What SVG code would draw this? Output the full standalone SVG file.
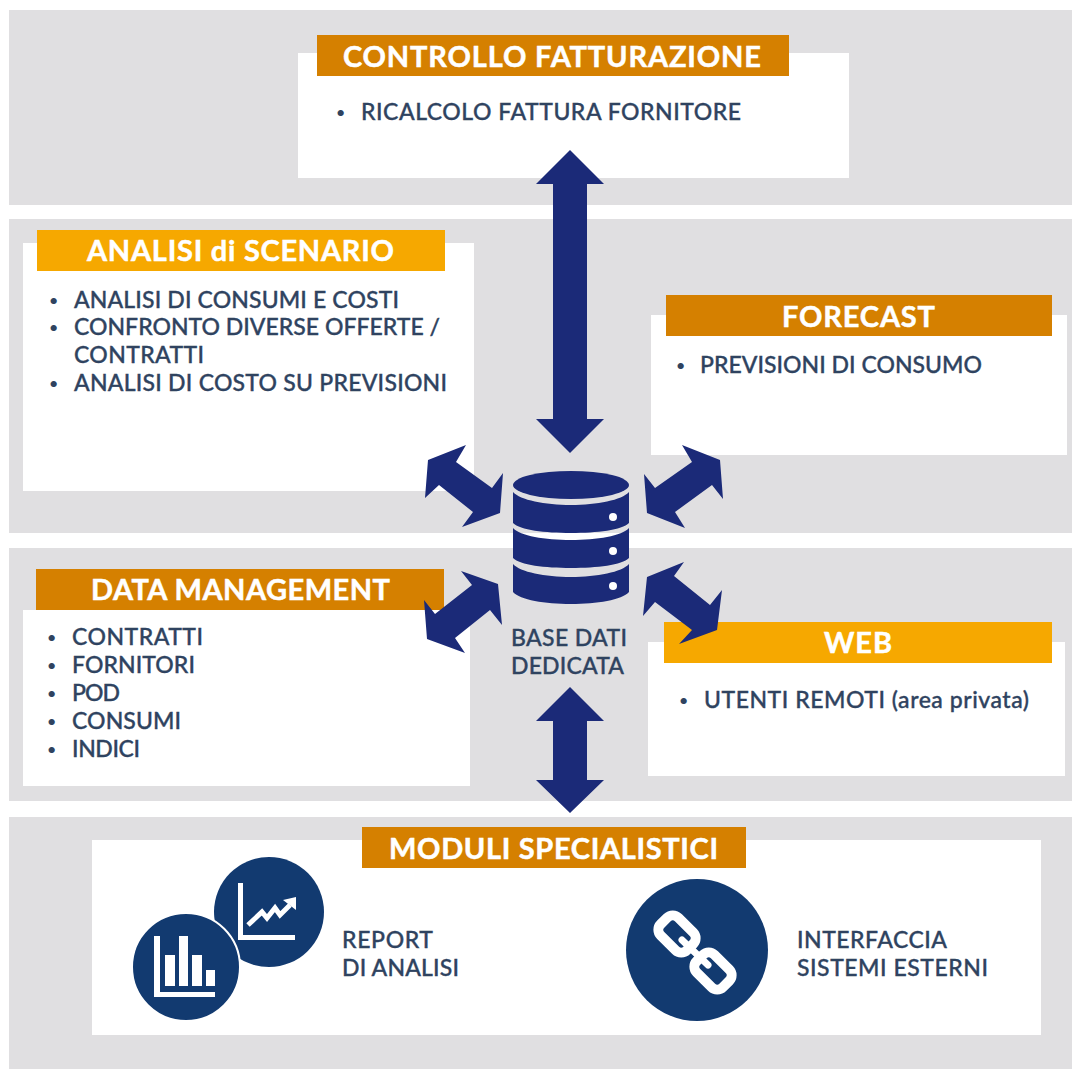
<svg xmlns="http://www.w3.org/2000/svg" width="1072" height="1069" viewBox="0 0 1072 1069">
<style>
.band{fill:#e0dfe1}
.panel{fill:#fff}
.dark{fill:#d58000}
.light{fill:#f6a800}
.head{font-family:"Lato","Liberation Sans",sans-serif;font-weight:700;font-size:29px;fill:#fff;stroke:#fff;stroke-width:.5}
.body{font-family:"Lato","Liberation Sans",sans-serif;font-weight:500;font-size:23px;fill:#2f4360;stroke:#2f4360;stroke-width:.35}
.bul{font-size:16px;stroke:none;transform:translate(0,-2px)}
.arrow{fill:#1b2a78}
.disc{fill:#123a70}
.ico{fill:#fff}
.line{fill:none;stroke:#fff}
</style>
<rect width="1072" height="1069" fill="#fff"/>
<g id="bands">
<rect class="band" x="9" y="10" width="1063" height="195"/>
<rect class="band" x="9" y="219" width="1063" height="314"/>
<rect class="band" x="9" y="548" width="1063" height="253"/>
<rect class="band" x="9" y="817" width="1063" height="252"/>
</g>
<g id="node-controllo">
<rect class="panel" x="298" y="53" width="551" height="125"/>
<rect class="dark" x="317" y="35" width="472" height="41"/>
<text class="head" x="343" y="67" textLength="418">CONTROLLO FATTURAZIONE</text>
<text class="body bul" x="336" y="120">•</text>
<text class="body" x="361" y="120" textLength="380">RICALCOLO FATTURA FORNITORE</text>
</g>
<g id="node-analisi">
<rect class="panel" x="23" y="243" width="451" height="248"/>
<rect class="light" x="37" y="230" width="408" height="41"/>
<text class="head" x="87" y="261" textLength="307">ANALISI di SCENARIO</text>
<text class="body bul" x="49" y="308">•</text>
<text class="body" x="74" y="308" textLength="325">ANALISI DI CONSUMI E COSTI</text>
<text class="body bul" x="49" y="335">•</text>
<text class="body" x="74" y="335" textLength="366">CONFRONTO DIVERSE OFFERTE /</text>
<text class="body" x="74" y="363" textLength="130">CONTRATTI</text>
<text class="body bul" x="49" y="391">•</text>
<text class="body" x="74" y="391" textLength="373">ANALISI DI COSTO SU PREVISIONI</text>
</g>
<g id="node-forecast">
<rect class="panel" x="651" y="315" width="416" height="140"/>
<rect class="dark" x="666" y="295" width="386" height="41"/>
<text class="head" x="782" y="327" textLength="153">FORECAST</text>
<text class="body bul" x="676" y="373">•</text>
<text class="body" x="700" y="373" textLength="282">PREVISIONI DI CONSUMO</text>
</g>
<g id="node-data">
<rect class="panel" x="23" y="610" width="447" height="176"/>
<rect class="dark" x="36" y="569" width="408" height="41"/>
<text class="head" x="91" y="600" textLength="299">DATA MANAGEMENT</text>
<text class="body bul" x="47" y="645">•</text>
<text class="body" x="72" y="645" textLength="131">CONTRATTI</text>
<text class="body bul" x="47" y="673">•</text>
<text class="body" x="72" y="673" textLength="123">FORNITORI</text>
<text class="body bul" x="47" y="701">•</text>
<text class="body" x="72" y="701" textLength="48">POD</text>
<text class="body bul" x="47" y="729">•</text>
<text class="body" x="72" y="729" textLength="109">CONSUMI</text>
<text class="body bul" x="47" y="757">•</text>
<text class="body" x="72" y="757" textLength="68">INDICI</text>
</g>
<g id="node-web">
<rect class="panel" x="648" y="642" width="417" height="134"/>
<rect class="light" x="664" y="622" width="388" height="41"/>
<text class="head" x="824" y="653" textLength="68">WEB</text>
<text class="body bul" x="679" y="708">•</text>
<text class="body" x="704" y="708" textLength="325">UTENTI REMOTI (area privata)</text>
</g>
<g id="node-moduli">
<rect class="panel" x="92" y="840" width="949" height="195"/>
<rect class="dark" x="362" y="827" width="384" height="41"/>
<text class="head" x="389" y="859" textLength="329">MODULI SPECIALISTICI</text>
<g id="icon-trend">
<circle class="disc" cx="269" cy="912" r="55"/>
<rect class="ico" x="238" y="883" width="5" height="57"/>
<rect class="ico" x="238" y="935" width="57" height="5"/>
<polyline class="line" stroke-width="5" points="248,925 262,912 267,918 275,908 280,915 290,905"/>
<polygon class="ico" points="296,897 296,910 283,900"/>
</g>
<g id="icon-bars">
<circle class="disc" cx="186" cy="967" r="54" stroke="#fff" stroke-width="2"/>
<rect class="ico" x="154" y="936" width="6" height="61"/>
<rect class="ico" x="154" y="992" width="61" height="5"/>
<rect class="ico" x="165" y="955" width="10" height="31"/>
<rect class="ico" x="179" y="936" width="9" height="50"/>
<rect class="ico" x="192" y="955" width="10" height="31"/>
<rect class="ico" x="206" y="970" width="9" height="16"/>
</g>
<g id="icon-link">
<circle class="disc" cx="697" cy="950" r="71"/>
<rect class="line" stroke-width="10" x="658.500" y="921.500" width="37" height="25" rx="8" transform="rotate(45 677 934)"/>
<rect class="line" stroke-width="10" x="694.500" y="958.500" width="37" height="25" rx="8" transform="rotate(45 713 971)"/>
<line class="line" stroke-width="7" stroke-linecap="round" x1="682" y1="940" x2="708" y2="965"/>
</g>
<text class="body" x="342" y="948" textLength="91">REPORT</text>
<text class="body" x="342" y="976" textLength="117">DI ANALISI</text>
<text class="body" x="797" y="948" textLength="150">INTERFACCIA</text>
<text class="body" x="797" y="976" textLength="191">SISTEMI ESTERNI</text>
</g>
<g id="connectors">
<polygon class="arrow" points="570,150 604,184 587,184 587,419 604,419 570,453 536,419 553,419 553,184 536,184"/>
<polygon class="arrow" points="570,687 604,721 587,721 587,780 604,780 570,813 536,780 553,780 553,721 536,721"/>
<polygon class="arrow" points="466,445 428,460 425,498 439,485 473,512 462,527 500,513 503,473 492,488 456,462"/>
<polygon class="arrow" points="682,445 720,460 723,499 712,485 675,512 685,528 647,513 644,474 655,488 692,462"/>
<polygon class="arrow" points="461,571 498,584 502,625 490,610 455,638 465,653 427,639 424,600 435,614 472,585"/>
<polygon class="arrow" points="684,562 647,577 643,616 655,602 692,630 679,644 717,630 722,590 710,605 674,576"/>
</g>
<g id="node-database">
<ellipse class="arrow" cx="571" cy="485" rx="58" ry="14"/>
<path class="arrow" d="M513,492C520,500 545,505 571,505S622,500 629,492V523C622,530 597,533 571,533S520,530 513,523Z"/>
<path class="arrow" d="M513,528C520,536 545,540 571,540S622,536 629,528V558C622,565 597,568 571,568S520,565 513,558Z"/>
<path class="arrow" d="M513,564C520,572 545,577 571,577S622,572 629,564V592C622,600 597,604 571,604S520,600 513,592Z"/>
<circle class="ico" cx="613" cy="517" r="4"/>
<circle class="ico" cx="613" cy="551" r="4"/>
<circle class="ico" cx="613" cy="586" r="4"/>
<text class="body" x="511" y="646" textLength="116">BASE DATI</text>
<text class="body" x="511" y="674" textLength="113">DEDICATA</text>
</g>
</svg>
